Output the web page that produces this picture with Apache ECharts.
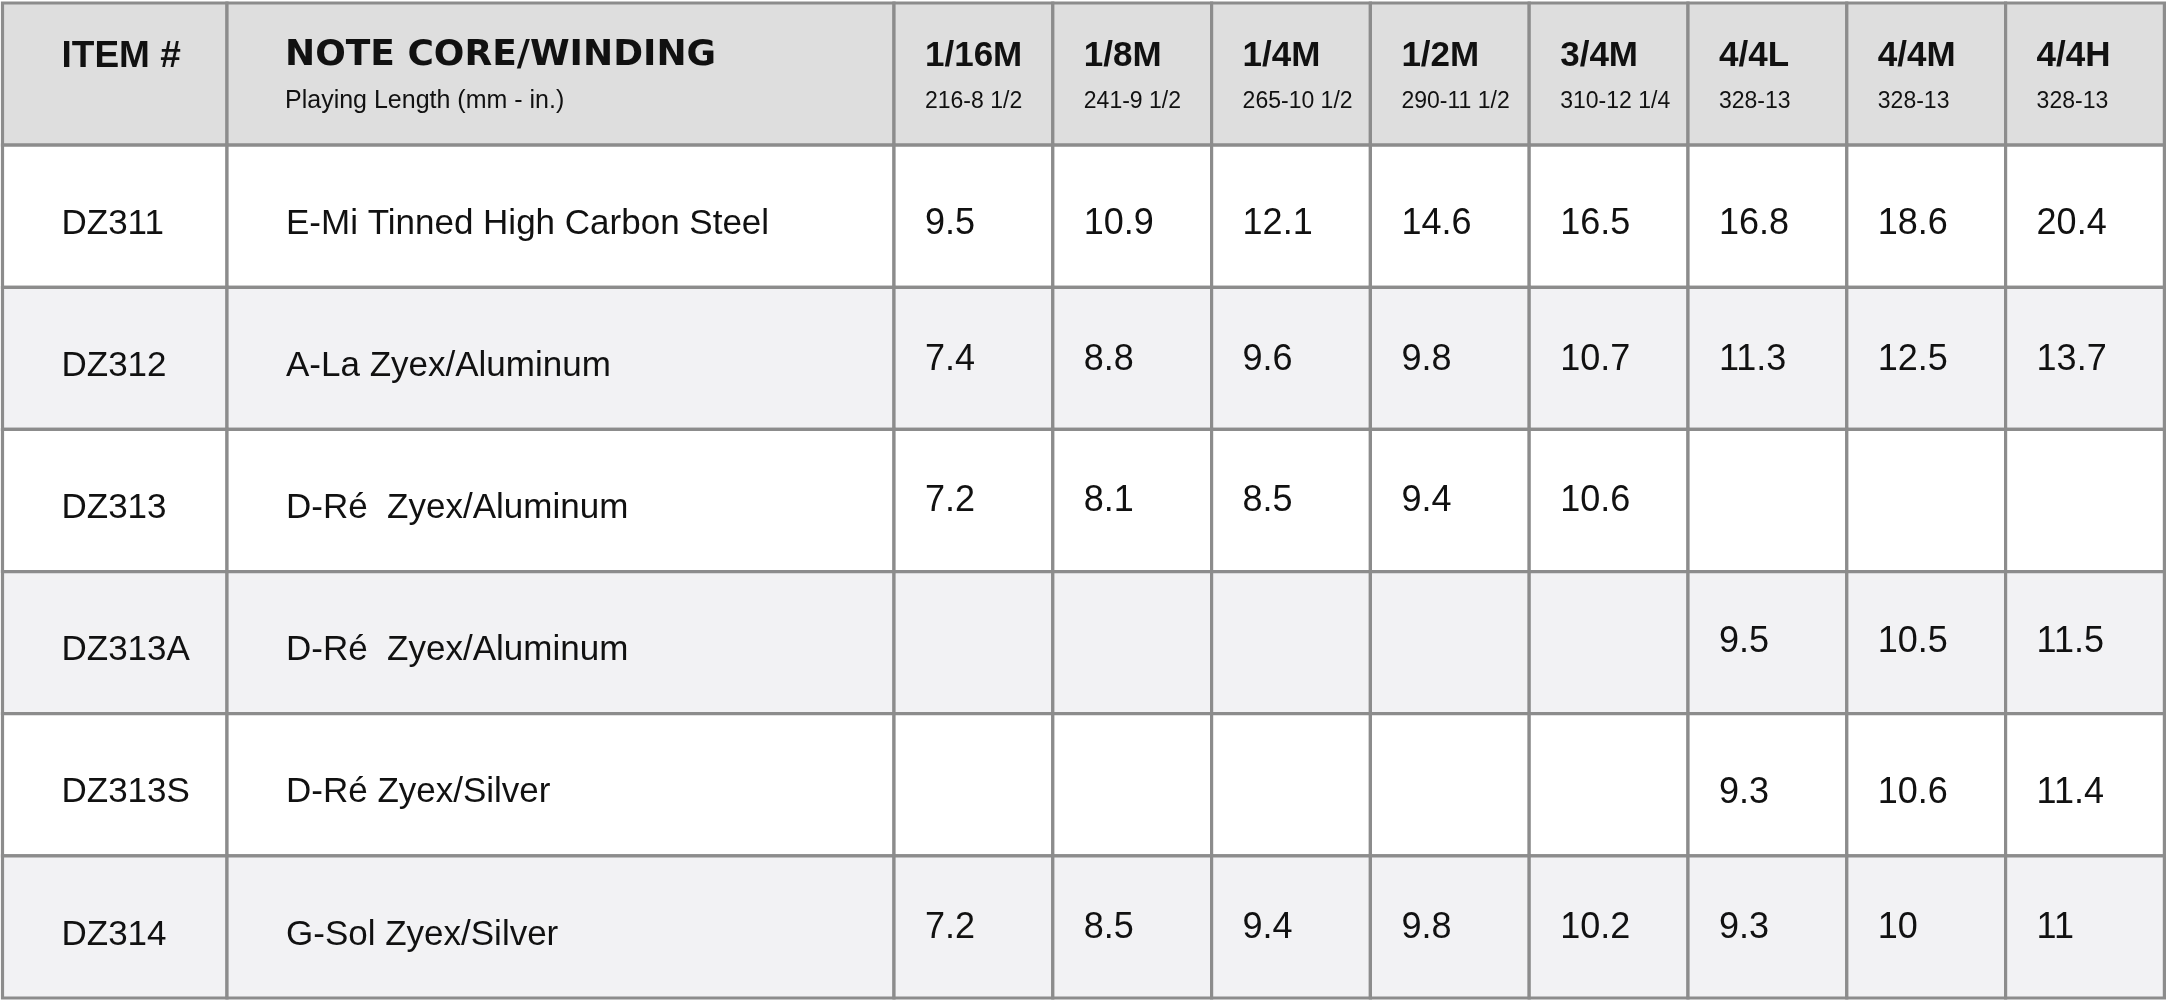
<!DOCTYPE html>
<html>
<head>
<meta charset="utf-8">
<script src="https://cdn.jsdelivr.net/npm/echarts@6.0.0/dist/echarts.min.js"></script>
<style>
html, body { margin: 0; padding: 0; background: #fff; }
#chart { width: 2167px; height: 1001px; }
</style>
</head>
<body>
<div id="chart"></div>
<script>
var items = ["DZ311", "DZ312", "DZ313", "DZ313A", "DZ313S", "DZ314"];
var notes = ["E-Mi Tinned High Carbon Steel", "A-La Zyex/Aluminum", "D-Ré  Zyex/Aluminum",
             "D-Ré  Zyex/Aluminum", "D-Ré Zyex/Silver", "G-Sol Zyex/Silver"];
var sizes = ["1/16M", "1/8M", "1/4M", "1/2M", "3/4M", "4/4L", "4/4M", "4/4H"];
var lengths = ["216-8 1/2", "241-9 1/2", "265-10 1/2", "290-11 1/2", "310-12 1/4", "328-13", "328-13", "328-13"];
var v311  = [9.5, 10.9, 12.1, 14.6, 16.5, 16.8, 18.6, 20.4];
var v312  = [7.4, 8.8, 9.6, 9.8, 10.7, 11.3, 12.5, 13.7];
var v313  = [7.2, 8.1, 8.5, 9.4, 10.6, null, null, null];
var v313A = [null, null, null, null, null, 9.5, 10.5, 11.5];
var v313S = [null, null, null, null, null, 9.3, 10.6, 11.4];
var v314  = [7.2, 8.5, 9.4, 9.8, 10.2, 9.3, 10, 11];
var values = [v311, v312, v313, v313A, v313S, v314];

var chart = echarts.init(document.getElementById("chart"));

// column widths along the x axis
var colW = [224.5, 667];
for (var i = 0; i < sizes.length; i++) colW.push(158.8);
var edges = [0];
colW.forEach(function (w) { edges.push(edges[edges.length - 1] + w); });
var total = edges[edges.length - 1];

var rows = ["head"].concat(items);
// small vertical nudge of the number cells, per body row (the source is not even)
var valNudge = [8, 2, 1, -1, 8, 1];

var cells = [];
function add(row, col, kind, title, sub) {
    cells.push({ value: [edges[col], edges[col + 1], row], kind: kind, title: title, sub: sub });
}
add(0, 0, "headItem", "ITEM #");
add(0, 1, "headNote", "NOTE CORE/WINDING", "Playing Length (mm - in.)");
sizes.forEach(function (s, i) { add(0, i + 2, "headSize", s, lengths[i]); });
items.forEach(function (it, r) {
    add(r + 1, 0, "item", it);
    add(r + 1, 1, "note", notes[r]);
    values[r].forEach(function (v, i) {
        add(r + 1, i + 2, "val", v == null ? "" : String(v));
    });
});

var ink = "#111111";
var base = "'Liberation Sans', Arial, sans-serif";

function txt(text, x, y, font) {
    return {
        type: "text",
        style: {
            text: text, x: x, y: y, font: font, fill: ink,
            align: "left", verticalAlign: "middle",
            textAlign: "left", textVerticalAlign: "middle"
        }
    };
}

function renderItem(params, api) {
    var c = cells[params.dataIndex];
    var p0 = api.coord([api.value(0), api.value(2)]);
    var p1 = api.coord([api.value(1), api.value(2)]);
    var h = api.size([0, 1])[1];
    var x0 = p0[0], x1 = p1[0], top = p0[1] - h / 2, mid = p0[1];
    var row = api.value(2);
    var fill = row === 0 ? "#dedede" : (row % 2 === 1 ? "#ffffff" : "#f2f2f4");
    var kids = [{
        type: "rect",
        shape: { x: x0, y: top, width: x1 - x0, height: h },
        style: { fill: fill, stroke: "#8c8c8c", lineWidth: 3.2 }
    }];
    if (c.kind === "headItem") {
        kids.push(txt(c.title, x0 + 59, top + 54, "bold 37px " + base));
    } else if (c.kind === "headNote") {
        kids.push(txt(c.title, x0 + 58, top + 53, "bold 36px 'DejaVu Sans', sans-serif"));
        kids.push(txt(c.sub, x0 + 58, top + 98, "25px " + base));
    } else if (c.kind === "headSize") {
        kids.push(txt(c.title, x0 + 31, top + 53, "bold 35px " + base));
        kids.push(txt(c.sub, x0 + 31, top + 99, "23px " + base));
    } else if (c.kind === "item" || c.kind === "note") {
        kids.push(txt(c.title, x0 + 59, mid + 8, "35px " + base));
    } else if (c.title) {
        kids.push(txt(c.title, x0 + 31, mid + valNudge[row - 1], "36px " + base));
    }
    return { type: "group", children: kids };
}

chart.setOption({
    animation: false,
    backgroundColor: "#ffffff",
    grid: { left: 2.5, top: 3, width: total, height: 995 },
    xAxis: { type: "value", min: 0, max: total, show: false },
    yAxis: { type: "category", data: rows, inverse: true, show: false },
    series: [{
        type: "custom",
        renderItem: renderItem,
        encode: { x: [0, 1], y: 2 },
        data: cells
    }]
});
window.addEventListener("resize", chart.resize);
</script>
</body>
</html>
